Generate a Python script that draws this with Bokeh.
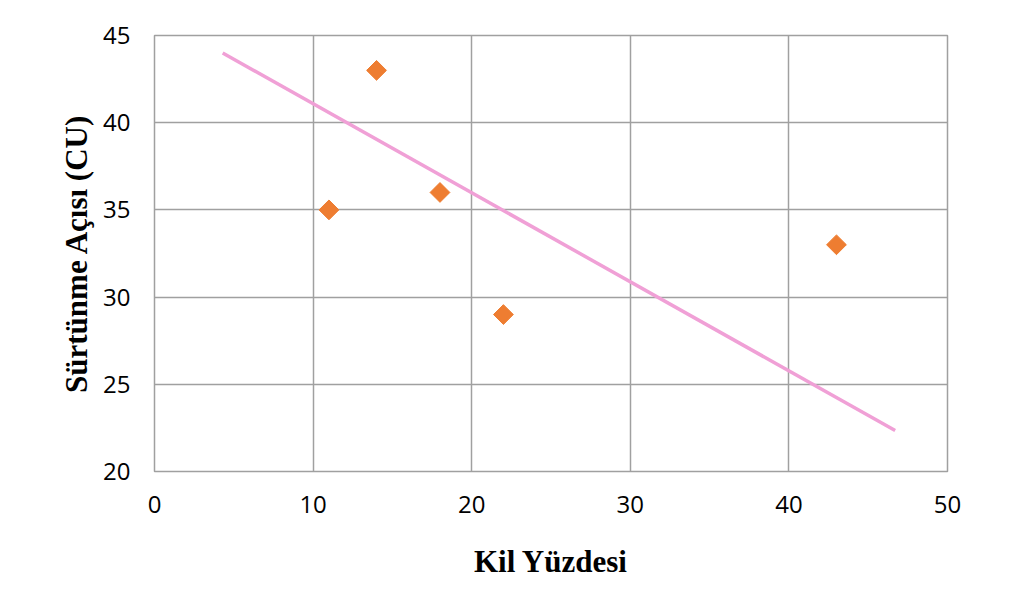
import math
from bokeh.plotting import figure
from bokeh.models import Range1d, FixedTicker
from bokeh.embed import file_html
from bokeh.resources import INLINE

clay_pct = [11, 14, 18, 22, 43]
friction_angle = [35, 43, 36, 29, 33]
trend_x = [4.3, 46.7]
trend_y = [44.0, 22.35]
x_ticks = [0, 10, 20, 30, 40, 50]
y_ticks = [20, 25, 30, 35, 40, 45]

p = figure(width=1006, height=584, output_backend="svg", toolbar_location=None,
           x_range=Range1d(0, 50), y_range=Range1d(20, 45),
           min_border_left=154, min_border_right=59, min_border_top=35, min_border_bottom=113)

p.line(trend_x, trend_y, line_color="#F0A0D6", line_width=3.5)
p.scatter(clay_pct, friction_angle, marker="square", size=14, angle=math.pi / 4,
          fill_color="#EE7D31", line_color="#EE7D31")

p.outline_line_color = "#A0A0A0"
p.outline_line_width = 1.5
for g in (p.xgrid, p.ygrid):
    g.grid_line_color = "#A0A0A0"
    g.grid_line_width = 1.5

p.xaxis.ticker = FixedTicker(ticks=x_ticks)
p.yaxis.ticker = FixedTicker(ticks=y_ticks)
for ax in (p.xaxis, p.yaxis):
    ax.axis_line_color = None
    ax.major_tick_line_color = None
    ax.minor_tick_line_color = None
    ax.major_tick_out = 0
    ax.major_tick_in = 0
    ax.major_label_text_font = "Open Sans"
    ax.major_label_text_font_size = "24px"
    ax.major_label_text_color = "black"
    ax.axis_label_text_font = "Liberation Serif"
    ax.axis_label_text_font_style = "bold"
    ax.axis_label_text_font_size = "31px"
    ax.axis_label_text_color = "black"

p.xaxis.axis_label = "Kil Yüzdesi"
p.yaxis.axis_label = "Sürtünme Açısı (CU)"
p.xaxis.major_label_standoff = 24
p.yaxis.major_label_standoff = 24
p.xaxis.axis_label_standoff = 28
p.yaxis.axis_label_standoff = 6

open("out.html", "w").write(file_html(p, INLINE))
